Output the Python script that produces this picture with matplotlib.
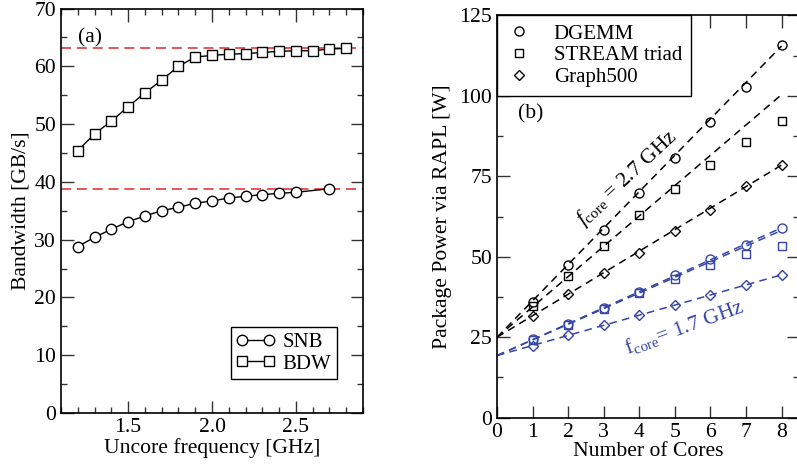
import matplotlib
matplotlib.use("Agg")
import matplotlib.pyplot as plt
from matplotlib.ticker import MultipleLocator

plt.rcParams['font.family'] = ['Liberation Serif', 'DejaVu Serif']
plt.rcParams['mathtext.fontset'] = 'custom'
plt.rcParams['mathtext.rm'] = 'Liberation Serif'
plt.rcParams['mathtext.it'] = 'Liberation Serif:italic'

# ---------------- data: panel (a) ----------------
bdw_freq = [1.2, 1.3, 1.4, 1.5, 1.6, 1.7, 1.8, 1.9, 2.0, 2.1, 2.2, 2.3, 2.4, 2.5, 2.6, 2.7, 2.8]
bdw_bw = [45.4, 48.3, 50.5, 53.0, 55.4, 57.6, 60.0, 61.6, 61.9, 62.1, 62.2, 62.4, 62.6, 62.7, 62.7, 63.0, 63.1]
snb_freq = [1.2, 1.3, 1.4, 1.5, 1.6, 1.7, 1.8, 1.9, 2.0, 2.1, 2.2, 2.3, 2.4, 2.5, 2.7]
snb_bw = [28.8, 30.4, 31.8, 33.1, 34.1, 35.0, 35.6, 36.3, 36.7, 37.2, 37.5, 37.8, 38.0, 38.2, 38.8]
peaks = [63.2, 38.8]

# ---------------- data: panel (b) ----------------
cores = [1, 2, 3, 4, 5, 6, 7, 8]
dgemm_27 = [36.1, 47.5, 58.2, 69.8, 80.7, 91.8, 102.8, 115.7]
stream_27 = [34.8, 44.1, 53.5, 62.9, 71.2, 78.6, 85.6, 92.1]
graph_27 = [31.6, 38.4, 44.9, 51.2, 57.9, 64.4, 71.9, 78.4]
dgemm_17 = [24.5, 29.2, 34.0, 39.2, 44.4, 49.4, 53.7, 59.1]
stream_17 = [24.2, 28.9, 33.8, 38.7, 43.2, 47.3, 50.9, 53.4]
graph_17 = [22.3, 25.7, 28.9, 32.0, 35.1, 38.2, 41.3, 44.4]

fit_x = [0, 8]
dgemm_27_fit = [25.0, 115.5]
stream_27_fit = [25.0, 100.4]
graph_27_fit = [25.0, 78.5]
dgemm_17_fit = [19.3, 59.0]
stream_17_fit = [19.3, 58.2]
graph_17_fit = [19.3, 44.4]

BLUE = '#3545a8'
RED = '#e03a3a'
FS = 15.6

fig = plt.figure(figsize=(7.97, 4.68), dpi=100)
ax1 = fig.add_axes([0.0765, 0.1177, 0.379, 0.864])
ax2 = fig.add_axes([0.6236, 0.1075, 0.3794, 0.8595])

for ax in (ax1, ax2):
    ax.tick_params(which='both', direction='in', top=True, right=True, labelsize=FS, width=1, color='#333333')
    ax.tick_params(which='major', length=9)
    ax.tick_params(which='minor', length=4.5)
    for s in ax.spines.values():
        s.set_linewidth(1.2)

# ---- panel (a)
for p in peaks:
    ax1.axhline(p, color=RED, lw=1.2, dashes=(6, 3.5), zorder=1)
ax1.plot(snb_freq, snb_bw, color='black', lw=1, marker='o', ms=7.5, mfc='white', mec='black', mew=1, label='SNB', zorder=3)
ax1.plot(bdw_freq, bdw_bw, color='black', lw=1, marker='s', ms=7.5, mfc='white', mec='black', mew=1, label='BDW', zorder=3)
ax1.set_xlim(1.1, 2.9)
ax1.set_ylim(0, 70)
ax1.xaxis.set_major_locator(MultipleLocator(0.5))
ax1.xaxis.set_minor_locator(MultipleLocator(0.1))
ax1.yaxis.set_major_locator(MultipleLocator(10))
ax1.yaxis.set_minor_locator(MultipleLocator(5))
ax1.xaxis.set_major_formatter(matplotlib.ticker.FormatStrFormatter('%.1f'))
ax1.set_xlabel('Uncore frequency [GHz]', fontsize=FS, labelpad=1)
ax1.set_ylabel('Bandwidth [GB/s]', fontsize=FS, labelpad=3)
ax1.text(0.055, 0.915, '(a)', transform=ax1.transAxes, fontsize=FS)
leg1 = ax1.legend(loc='lower right', bbox_to_anchor=(0.913, 0.084), borderaxespad=0, fontsize=15,
                  numpoints=2, handlelength=1.9, fancybox=False, edgecolor='black', framealpha=1,
                  handletextpad=0.35, borderpad=0.25, labelspacing=0.1)
leg1.get_frame().set_linewidth(1)

# ---- panel (b)
fit_style = dict(lw=1.1, dashes=(5, 3.5), zorder=2)
ax2.plot(fit_x, dgemm_27_fit, color='black', **fit_style)
ax2.plot(fit_x, stream_27_fit, color='black', **fit_style)
ax2.plot(fit_x, graph_27_fit, color='black', **fit_style)
ax2.plot(fit_x, dgemm_17_fit, color=BLUE, **fit_style)
ax2.plot(fit_x, stream_17_fit, color=BLUE, **fit_style)
ax2.plot(fit_x, graph_17_fit, color=BLUE, **fit_style)

mk = dict(ls='none', mfc='none', mew=1, zorder=3)
ax2.plot(cores, dgemm_27, marker='o', ms=6.5, mec='black', label='DGEMM', **mk)
ax2.plot(cores, stream_27, marker='s', ms=5.8, mec='black', label='STREAM triad', **mk)
ax2.plot(cores, graph_27, marker='D', ms=5, mec='black', label='Graph500', **mk)
ax2.plot(cores, dgemm_17, marker='o', ms=6.5, mec=BLUE, **mk)
ax2.plot(cores, stream_17, marker='s', ms=5.8, mec=BLUE, **mk)
ax2.plot(cores, graph_17, marker='D', ms=5, mec=BLUE, **mk)

ax2.set_xlim(0, 8.5)
ax2.set_ylim(0, 125)
ax2.xaxis.set_major_locator(MultipleLocator(1))
ax2.yaxis.set_major_locator(MultipleLocator(25))
ax2.yaxis.set_minor_locator(MultipleLocator(12.5))
ax2.set_xlabel('Number of Cores', fontsize=FS, labelpad=0)
ax2.set_ylabel('Package Power via RAPL [W]', fontsize=FS, labelpad=5)
ax2.text(0.07, 0.745, '(b)', transform=ax2.transAxes, fontsize=FS)

ax2.text(3.67, 74.5, r'$f_{\rm core}$ = 2.7 GHz', fontsize=15.5, rotation=43, rotation_mode='anchor',
         ha='center', va='center', color='black')
ax2.text(5.25, 28.2, r'f$_{\rm core}$= 1.7 GHz', fontsize=15.5, rotation=20, rotation_mode='anchor',
         ha='center', va='center', color=BLUE)

leg2 = ax2.legend(loc='upper left', borderaxespad=0, fontsize=15, numpoints=1, handlelength=1.3,
                  fancybox=False, edgecolor='black', framealpha=1, handletextpad=1.0,
                  borderpad=0.42, labelspacing=0.1)
leg2.get_frame().set_linewidth(1)

fig.savefig('out.png', dpi=100)
